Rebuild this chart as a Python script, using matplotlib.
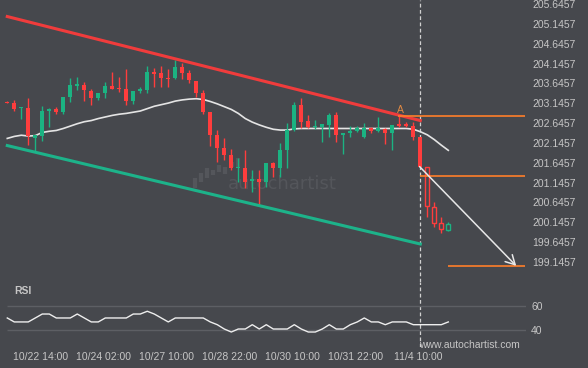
import numpy as np
import matplotlib
matplotlib.use("Agg")
import matplotlib.pyplot as plt
from matplotlib.patches import FancyArrowPatch
from matplotlib.collections import LineCollection

plt.rcParams['font.family'] = ['Liberation Sans', 'DejaVu Sans']

# 4h candles
opens = [203.18, 203.14, 203.03, 203.03, 202.28, 202.32, 202.96, 203.00, 202.93, 203.31,
         203.60, 203.61, 203.45, 203.27, 203.41, 203.58, 203.53, 203.50, 203.20, 203.47,
         203.48, 203.94, 203.90, 203.78, 203.77, 204.07, 203.90, 203.71, 203.40, 202.92,
         202.35, 202.01, 201.84, 201.52, 201.51, 201.19, 201.24, 201.17, 201.63, 201.51,
         201.97, 202.47, 203.10, 202.70, 202.55, 202.56, 202.60, 202.85, 202.34, 202.40,
         202.45, 202.30, 202.53, 202.45, 202.49, 202.39, 202.61, 202.61, 202.57, 202.30,
         201.53, 200.54, 200.12, 199.95]
highs = [203.21, 203.23, 203.04, 203.29, 202.35, 203.08, 203.03, 203.06, 203.30, 203.77,
         203.80, 203.67, 203.50, 203.40, 203.69, 203.94, 203.81, 204.01, 203.45, 203.56,
         204.08, 204.03, 204.09, 204.01, 204.24, 204.17, 203.98, 203.71, 203.48, 202.92,
         202.47, 202.26, 201.99, 201.76, 201.97, 201.46, 201.46, 201.63, 201.67, 202.14,
         202.64, 203.18, 203.27, 202.85, 202.72, 202.62, 202.89, 202.93, 202.40, 202.57,
         202.57, 202.64, 202.56, 202.81, 202.51, 202.60, 202.82, 202.68, 202.68, 202.30,
         201.53, 200.67, 200.29, 200.15]
lows = [203.14, 202.96, 202.75, 202.09, 201.94, 202.20, 202.54, 202.88, 202.88, 203.18,
        203.48, 203.21, 203.10, 203.23, 203.27, 203.50, 203.44, 203.10, 203.12, 203.40,
        203.40, 203.56, 203.56, 203.56, 203.75, 203.75, 203.66, 203.31, 202.88, 202.07,
        201.67, 201.72, 201.46, 201.16, 201.00, 200.92, 200.58, 201.04, 201.30, 201.30,
        201.51, 202.45, 202.51, 202.51, 202.49, 202.18, 202.30, 202.18, 201.87, 202.29,
        202.43, 202.28, 202.39, 202.43, 202.12, 201.97, 202.56, 202.56, 202.22, 201.55,
        200.29, 200.02, 199.87, 199.93]
closes = [203.16, 203.00, 203.04, 202.31, 202.35, 202.95, 202.99, 202.93, 203.30, 203.61,
          203.61, 203.47, 203.28, 203.40, 203.59, 203.51, 203.51, 203.21, 203.45, 203.49,
          203.93, 203.88, 203.77, 203.76, 204.07, 203.92, 203.73, 203.40, 202.93, 202.35,
          202.01, 201.84, 201.51, 201.54, 201.17, 201.24, 201.17, 201.63, 201.51, 201.97,
          202.47, 203.10, 202.68, 202.56, 202.57, 202.62, 202.85, 202.35, 202.40, 202.45,
          202.53, 202.53, 202.45, 202.51, 202.39, 202.60, 202.59, 202.59, 202.30, 201.55,
          200.56, 200.14, 199.97, 200.10]
ma = [202.26, 202.31, 202.34, 202.32, 202.33, 202.41, 202.44, 202.46, 202.51, 202.57,
      202.63, 202.68, 202.71, 202.76, 202.80, 202.84, 202.87, 202.89, 202.92, 202.95,
      203.01, 203.07, 203.11, 203.15, 203.20, 203.23, 203.25, 203.26, 203.24, 203.19,
      203.13, 203.06, 202.99, 202.89, 202.76, 202.67, 202.60, 202.54, 202.49, 202.47,
      202.47, 202.50, 202.51, 202.51, 202.51, 202.51, 202.51, 202.51, 202.51, 202.51,
      202.51, 202.51, 202.51, 202.51, 202.51, 202.51, 202.51, 202.51, 202.49, 202.43,
      202.35, 202.23, 202.09, 201.96]
rsi = [50, 46.7, 46.7, 46.7, 50, 53.3, 53.3, 50, 50, 50,
       53.3, 50, 46.7, 46.7, 50, 50, 50, 50, 53.3, 53.3,
       55.6, 53.3, 50, 46.7, 50, 50, 50, 50, 50, 46.7,
       44.4, 40.8, 38.3, 40.8, 40.8, 44.4, 40.8, 44.4, 40.8, 40.8,
       40.8, 44.4, 40.8, 38.3, 38.3, 40.8, 44.4, 40.8, 40.8, 44.4,
       46.7, 50, 46.7, 46.7, 44.4, 46.7, 46.7, 46.7, 44.4, 44.4,
       44.4, 44.4, 44.4, 46.7]
hollow_from = 60          # candles after the breakout are drawn hollow
breakout_idx = 58.9

# channel (index, price)
upper_x, upper_y = [0, 59], [205.33, 202.71]
lower_x, lower_y = [0, 59], [202.08, 199.60]
# levels
a_idx, a_level = 55.8, 202.82
entry_idx, entry_level = 58.9, 201.31
target_idx, target_level = 62.9, 199.05
arrow_start = (58.9, 201.55)
arrow_end = (72.7, 199.05)

price_ticks = [205.6457, 205.1457, 204.6457, 204.1457, 203.6457, 203.1457, 202.6457,
               202.1457, 201.6457, 201.1457, 200.6457, 200.1457, 199.6457, 199.1457]
rsi_ticks = [40, 60]
time_pos = [5, 14, 23, 32, 41, 50, 59]
time_labels = ['10/22 14:00', '10/24 02:00', '10/27 10:00', '10/28 22:00',
               '10/30 10:00', '10/31 22:00', '11/4 10:00']

BG = '#46484d'
TXT = '#c6c6c6'
GREEN = '#1bb382'
RED = '#ff3d3d'
ORANGE = '#ff7f2a'

W, H = 588, 368
fig = plt.figure(figsize=(W / 100, H / 100), dpi=100, facecolor=BG)
ax = fig.add_axes([0, 86 / H, 526 / W, 282 / H])
ax_r = fig.add_axes([0, 21 / H, 526 / W, 65 / H])

xlim = (-1.04, 74.1)
for a in (ax, ax_r):
    a.set_facecolor(BG)
    a.set_xlim(*xlim)
    for s in a.spines.values():
        s.set_visible(False)
    a.axvline(breakout_idx, color='#d0d0d0', lw=0.9, ls=(0, (3, 2)), zorder=1)

ax.set_ylim(198.643, 205.7465)

# candles
x = np.arange(len(opens))
o, h, l, c = map(np.array, (opens, highs, lows, closes))
col = np.where(c >= o, GREEN, RED)
body_h = np.maximum(np.abs(c - o), 0.03)
body_b = (o + c) / 2 - body_h / 2
solid = x < hollow_from
ax.vlines(x, l, h, colors=col, lw=1, zorder=3)
ax.bar(x[solid], body_h[solid], bottom=body_b[solid], width=0.58,
       color=col[solid], zorder=4)
ax.bar(x[~solid], body_h[~solid], bottom=body_b[~solid], width=0.58,
       facecolor=BG, edgecolor=col[~solid], lw=1, zorder=4)

# moving average
ax.plot(x, ma, color='#e4e4e4', lw=1.2, zorder=2)

# channel
ax.plot(upper_x, upper_y, color='#f03c3c', lw=2.2, zorder=5)
ax.plot(lower_x, lower_y, color='#1db38a', lw=2.2, zorder=5)

# levels and projection
ax.hlines(a_level, a_idx, xlim[1] - 0.1, color=ORANGE, lw=1.2, zorder=5)
ax.hlines(entry_level, entry_idx, xlim[1] - 0.1, color=ORANGE, lw=1.2, zorder=5)
ax.hlines(target_level, target_idx, xlim[1] - 0.1, color=ORANGE, lw=1.2, zorder=5)
ax.text(56.2, 202.97, 'A', color='#e38a43', fontsize=7.5, ha='center', va='center', zorder=6)
ax.add_patch(FancyArrowPatch(arrow_start, arrow_end,
                             arrowstyle='->,head_length=0.55,head_width=0.3',
                             mutation_scale=12, color='#e8e8e8', lw=1.1,
                             shrinkA=0, shrinkB=0, zorder=6))

# watermark
ax.text(282 / W, 1 - 184 / H, 'autochartist', transform=fig.transFigure,
        ha='center', va='center', fontsize=13, color='#54565b',
        family='DejaVu Sans', zorder=1)
logo = [(195, 178, 188), (201, 173, 182), (207, 168, 178), (213, 170, 175),
        (219, 165, 172), (225, 167, 174), (232, 162, 167), (238, 158, 167)]
segs = [[(px / W, 1 - y0 / H), (px / W, 1 - y1 / H)] for px, y0, y1 in logo]
ax.add_collection(LineCollection(segs, colors='#54565b', lw=3,
                                 transform=fig.transFigure, zorder=1), autolim=False)

ax.set_xticks([])
ax.yaxis.tick_right()
ax.set_yticks(price_ticks)
ax.set_yticklabels([f'{v:.4f}' for v in price_ticks])
ax.tick_params(axis='y', length=0, pad=36, labelsize=7.5, labelcolor=TXT)
for t in ax.get_yticklabels():
    t.set_horizontalalignment('right')

# RSI panel
ax_r.set_ylim(25.8, 80)
ax_r.hlines(rsi_ticks, -0.04, xlim[1], color='#5d5f64', lw=1, zorder=1)
ax_r.plot(x, rsi, color='#eeeeee', lw=1, zorder=2)
ax_r.yaxis.tick_right()
ax_r.set_yticks(rsi_ticks)
ax_r.tick_params(axis='y', length=0, pad=3.6, labelsize=7.5, labelcolor=TXT)
ax_r.set_xticks(np.array(time_pos) - 0.25)
ax_r.set_xticklabels(time_labels)
ax_r.tick_params(axis='x', length=0, pad=3.5, labelsize=7.5, labelcolor=TXT)

fig.text(14 / W, 1 - 291 / H, 'RSI', color=TXT, fontsize=7.5, fontweight='bold',
         ha='left', va='center')
fig.text(419 / W, 1 - 345 / H, 'www.autochartist.com', color=TXT, fontsize=7.5,
         ha='left', va='center')

fig.savefig('out.png', dpi=100, facecolor=BG)
